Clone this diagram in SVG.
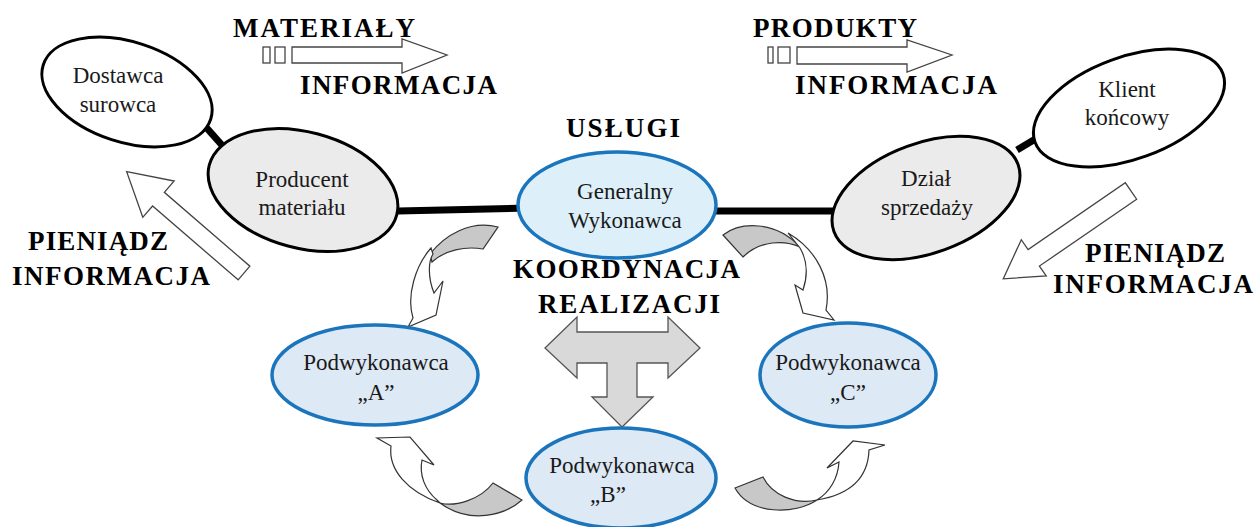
<svg xmlns="http://www.w3.org/2000/svg" width="1255" height="527" viewBox="0 0 1255 527">
<style>
.lbl{font-family:"Liberation Serif","Times New Roman",serif;font-weight:bold;font-size:27px;fill:#000}
.nt{font-family:"Liberation Serif","Times New Roman",serif;font-size:23px;fill:#1a1a1a;text-anchor:middle}
.bk{stroke:#000;stroke-width:3}
.wh{fill:#fff}
.gr{fill:#ebebeb}
.bl{fill:#ddf0fa;stroke:#1b75bc;stroke-width:3.5}
.bl2{fill:#dde9f5;stroke:#1b75bc;stroke-width:3.5}
.con{stroke:#000;stroke-width:7;fill:none}
.blk{fill:#fff;stroke:#444;stroke-width:1.3}
.cg{fill:#c8c8c8;stroke:#333;stroke-width:1.2}
.cw{fill:#fff;stroke:#333;stroke-width:1.2}
</style>
<rect width="1255" height="527" fill="#fff"/>
<g id="flows">
<path class="blk" d="M292,47 L402,47 L402,39 L447,55 L402,73 L402,63 L292,63 Z"/>
<rect class="blk" x="263" y="47" width="7" height="16"/>
<rect class="blk" x="275" y="47" width="10" height="16"/>
<path class="blk" d="M797,47 L907,47 L907,40 L952,55 L907,72 L907,64 L797,64 Z"/>
<rect class="blk" x="768" y="47" width="5" height="16"/>
<rect class="blk" x="778" y="47" width="12" height="16"/>
<path class="blk" transform="translate(244,273) rotate(-139.2)" d="M0,-9 L113,-9 L113,-24 L155,0 L113,24 L113,9 L0,9 Z"/>
<path class="blk" transform="translate(1131,191) rotate(145.5)" d="M0,-10 L118,-10 L118,-22 L155,0 L118,22 L118,10 L0,10 Z"/>
<path class="cg" d="M430,254 C445,235 470,220 498,227 L483,249 C465,246 445,250 432,262 Z"/>
<path class="cw" d="M431,248 C416,265 406,295 413,318 L408,327 L436,315 L443,281 L434,293 C428,278 428,262 433,254 Z"/>
<path class="cg" d="M723,235 C740,222 775,220 800,247 C785,240 760,240 743,257 Z"/>
<path class="cw" d="M788,233 C817,250 832,280 826,310 L834,320 L803,313 L795,285 L803,290 C808,275 807,260 800,248 Z"/>
<path class="cg" d="M493,483 L522,500 C505,515 470,525 440,503 C455,507 480,500 493,483 Z"/>
<path class="cw" d="M440,503 C408,492 388,470 391,446 L377,438 L410,437 L434,465 L422,460 C419,475 425,490 437,500 Z"/>
<path class="cg" d="M735,488 L763,477 C772,495 795,505 817,500 C795,515 750,515 735,488 Z"/>
<path class="cw" d="M817,500 C847,495 868,480 869,450 L885,445 L853,441 L827,468 L839,462 C838,478 830,492 817,500 Z"/>
<polygon fill="#d9d9d9" stroke="#555" stroke-width="1.3" points="545,348 577,317 577,332 668,332 668,317 700,348 668,378 668,363 637,363 637,397 653,397 622,427 592,397 607,397 607,363 577,363 577,378"/>
</g>
<g id="labels">
<text class="lbl" x="233" y="37" textLength="182" lengthAdjust="spacing">MATERIAŁY</text>
<text class="lbl" x="300" y="94" textLength="197" lengthAdjust="spacing">INFORMACJA</text>
<text class="lbl" x="753" y="37" textLength="164" lengthAdjust="spacing">PRODUKTY</text>
<text class="lbl" x="795" y="94" textLength="202" lengthAdjust="spacing">INFORMACJA</text>
<text class="lbl" x="566" y="137" textLength="114" lengthAdjust="spacing">USŁUGI</text>
<text class="lbl" x="28" y="250" textLength="140" lengthAdjust="spacing">PIENIĄDZ</text>
<text class="lbl" x="12" y="285" textLength="198" lengthAdjust="spacing">INFORMACJA</text>
<text class="lbl" x="1085" y="262" font-size="25" textLength="140" lengthAdjust="spacing">PIENIĄDZ</text>
<text class="lbl" x="1053" y="293" font-size="25" textLength="200" lengthAdjust="spacing">INFORMACJA</text>
<text class="lbl" x="513" y="278" textLength="227" lengthAdjust="spacing">KOORDYNACJA</text>
<text class="lbl" x="538" y="313" textLength="182" lengthAdjust="spacing">REALIZACJI</text>
</g>
<g id="connectors">
<line class="con" x1="197" y1="117" x2="228" y2="152"/>
<line class="con" x1="398" y1="211" x2="528" y2="208"/>
<line class="con" x1="708" y1="211" x2="840" y2="211"/>
<line class="con" x1="1017" y1="150" x2="1042" y2="135"/>
</g>
<g id="dostawca">
<ellipse class="wh bk" cx="127" cy="92" rx="88" ry="50" transform="rotate(18 127 92)"/>
<text class="nt" x="118" y="83">Dostawca</text>
<text class="nt" x="118" y="112">surowca</text>
</g>
<g id="producent">
<ellipse class="gr bk" cx="303" cy="190" rx="97" ry="58" transform="rotate(15 303 190)"/>
<text class="nt" x="302" y="187">Producent</text>
<text class="nt" x="302" y="215">materiału</text>
</g>
<g id="generalny">
<ellipse class="bl" cx="617" cy="205" rx="99" ry="53"/>
<text class="nt" x="625" y="199">Generalny</text>
<text class="nt" x="625" y="228">Wykonawca</text>
</g>
<g id="dzial">
<ellipse class="gr bk" cx="926" cy="198" rx="98" ry="55" transform="rotate(-20 926 198)"/>
<text class="nt" x="926" y="186">Dział</text>
<text class="nt" x="927" y="215">sprzedaży</text>
</g>
<g id="klient">
<ellipse class="wh bk" cx="1129" cy="108" rx="100" ry="51" transform="rotate(-20 1129 108)"/>
<text class="nt" x="1127" y="97">Klient</text>
<text class="nt" x="1127" y="125">końcowy</text>
</g>
<g id="podA">
<ellipse class="bl2" cx="375" cy="375" rx="103" ry="50"/>
<text class="nt" x="376" y="370">Podwykonawca</text>
<text class="nt" x="376" y="400">„A”</text>
</g>
<g id="podB">
<ellipse class="bl2" cx="621" cy="478" rx="95" ry="50"/>
<text class="nt" x="622" y="473">Podwykonawca</text>
<text class="nt" x="608" y="502">„B”</text>
</g>
<g id="podC">
<ellipse class="bl2" cx="848" cy="375" rx="88" ry="52"/>
<text class="nt" x="848" y="370">Podwykonawca</text>
<text class="nt" x="848" y="400">„C”</text>
</g>
</svg>
